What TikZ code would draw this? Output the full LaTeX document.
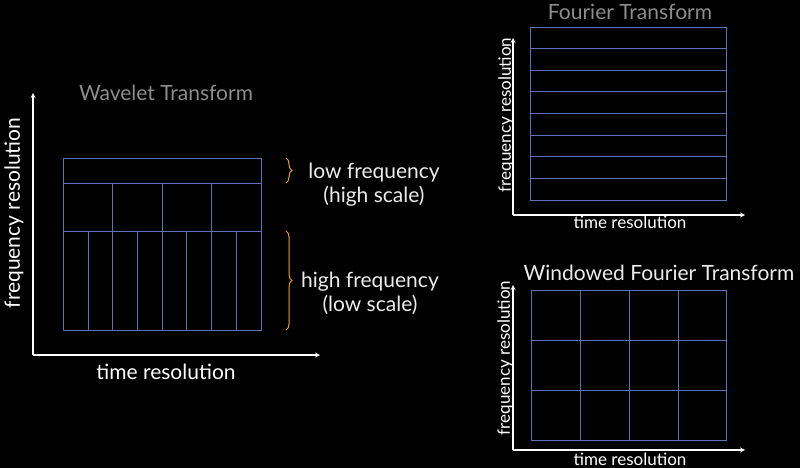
\documentclass[tikz,border=0pt]{standalone}
\usepackage{fontspec}
\setmainfont{Lato}
\usetikzlibrary{decorations.pathreplacing}
\begin{document}
\begin{tikzpicture}[x=1pt,y=-1pt,
  grid/.style={draw=gridblue,line width=0.8pt},
  axis/.style={draw=white,line width=1.2pt,-stealth},
  ttl/.style={text=gray!90,font=\fontsize{21}{24}\selectfont},
  lbl/.style={text=white,font=\fontsize{21}{24}\selectfont},
  slbl/.style={text=white,font=\fontsize{17}{20}\selectfont},
  brc/.style={draw=braceor,line width=1pt,decorate,decoration={brace,amplitude=6pt}}]
\definecolor{gridblue}{HTML}{5A72B8}
\definecolor{braceor}{HTML}{F0A030}
\fill[black] (0,0) rectangle (800,468);
\useasboundingbox (0,0) rectangle (800,468);
% Wavelet
\coordinate (wo) at (33,355);
\coordinate (wy) at (33,93);
\coordinate (wx) at (320,355);
\draw[axis] (wo) -- (wy);
\draw[axis] (wo) -- (wx);
\draw[grid] (63,158) rectangle (261,330);
\draw[grid] (63,183) -- (261,183);
\draw[grid] (63,231) -- (261,231);
\foreach \x in {112,162,211} \draw[grid] (\x,183) -- (\x,330);
\foreach \x in {88,137,186,236} \draw[grid] (\x,231) -- (\x,330);
\node[ttl] (wt) at (166,93) {Wavelet Transform};
\node[lbl,rotate=90] (wyl) at (14,213) {frequency resolution};
\node[lbl] (wxl) at (166,372) {time resolution};
\coordinate (b1a) at (286,158); \coordinate (b1b) at (286,183);
\coordinate (b2a) at (286,231); \coordinate (b2b) at (286,330);
\draw[brc] (b1a) -- (b1b);
\draw[brc] (b2a) -- (b2b);
\node[lbl,text=white!85!gray,align=center] (lf) at (374,185) {low frequency\\(high scale)};
\node[lbl,text=white!85!gray,align=center] (hf) at (370,293) {high frequency\\(low scale)};
% Fourier
\coordinate (fo) at (513,215);
\coordinate (fy) at (513,38);
\coordinate (fx) at (745,215);
\draw[axis] (fo) -- (fy);
\draw[axis] (fo) -- (fx);
\draw[grid] (530,27) rectangle (726,200);
\foreach \i in {1,...,7} \draw[grid] (530,27+21.625*\i) -- (726,27+21.625*\i);
\node[ttl] (ft) at (630,12) {Fourier Transform};
\node[slbl,rotate=90] (fyl) at (506,115) {frequency resolution};
\node[slbl] (fxl) at (630,222) {time resolution};
% Windowed
\coordinate (go) at (513,450);
\coordinate (gy) at (513,285);
\coordinate (gx) at (745,450);
\draw[axis] (go) -- (gy);
\draw[axis] (go) -- (gx);
\draw[grid] (531,290) rectangle (726,440);
\foreach \x in {580,629,678} \draw[grid] (\x,290) -- (\x,440);
\foreach \y in {340,390} \draw[grid] (531,\y) -- (726,\y);
\node[ttl,text=white!85!gray] (gt) at (659,273) {Windowed Fourier Transform};
\node[slbl,rotate=90] (gyl) at (505,358) {frequency resolution};
\node[slbl] (gxl) at (630,459) {time resolution};
\end{tikzpicture}
\end{document}
